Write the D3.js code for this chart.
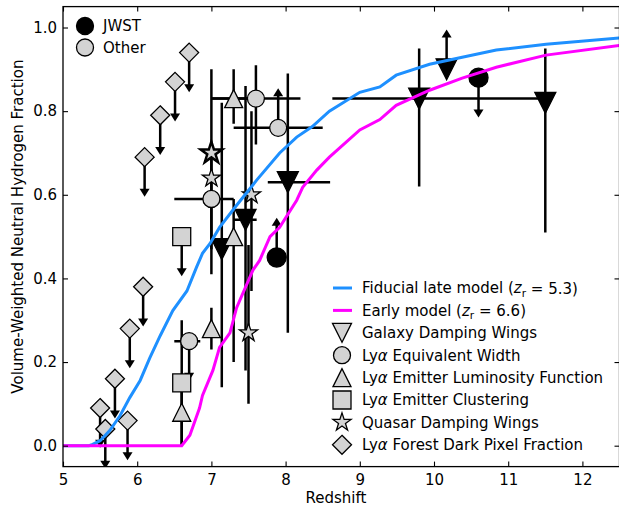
<!DOCTYPE html>
<html>
<head>
<meta charset="utf-8">
<script src="https://cdn.jsdelivr.net/npm/d3@7"></script>
<style>
body { margin: 0; background: #fff; }
text { font-family: "DejaVu Sans", sans-serif; }
</style>
</head>
<body>
<svg id="chart" width="619" height="512"></svg>
<script>
// reionization model curves (redshift, neutral fraction)
var lateZ  = [5.0, 5.35, 5.40, 5.50, 5.63, 5.77, 5.90, 6.04, 6.17, 6.31, 6.48, 6.67, 6.80, 6.88, 6.98, 7.11, 7.34, 7.61, 7.92, 8.15, 8.36, 8.59, 9.0, 9.27, 9.49, 9.94, 10.38, 10.84, 11.51, 12.5];
var lateX  = [0, 0, 0.003, 0.012, 0.036, 0.072, 0.115, 0.156, 0.21, 0.263, 0.323, 0.37, 0.427, 0.46, 0.483, 0.522, 0.575, 0.635, 0.70, 0.738, 0.763, 0.80, 0.845, 0.858, 0.886, 0.912, 0.929, 0.946, 0.96, 0.975];
var earlyZ = [5.0, 6.60, 6.71, 6.84, 6.88, 7.02, 7.11, 7.25, 7.34, 7.56, 7.65, 7.79, 7.92, 8.15, 8.23, 8.42, 8.59, 9.0, 9.27, 9.49, 9.94, 10.38, 10.84, 11.51, 12.5];
var earlyX = [0, 0, 0.025, 0.09, 0.12, 0.18, 0.235, 0.27, 0.33, 0.42, 0.443, 0.50, 0.522, 0.587, 0.618, 0.659, 0.69, 0.755, 0.78, 0.814, 0.85, 0.879, 0.905, 0.934, 0.957];

// measurements: v = xHI, lo/hi = y errors, zlo/zhi = redshift errors
// lim: -1 upper limit, 1 lower limit
var galaxyDW = [
    {z: 7.14, v: 0.47, lo: 0.33, hi: 0.35, jwst: true},
    {z: 7.46, v: 0.54, lo: 0.36, hi: 0.32, zlo: 0.16, zhi: 0.15, jwst: true},
    {z: 8.03, v: 0.63, lo: 0.36, hi: 0.26, zlo: 0.27, zhi: 0.57, jwst: true},
    {z: 9.8,  v: 0.83, lo: 0.21, hi: 0.12, zlo: 1.17, zhi: 1.7, jwst: true},
    {z: 10.17, v: 0.90, lim: 1, jwst: true},
    {z: 11.5, v: 0.82, lo: 0.31, hi: 0.13, jwst: true}
];
var lyaEW = [
    {z: 7.6, v: 0.83, lo: 0.11, hi: 0.08, zlo: 0.6, zhi: 0.6},
    {z: 7.9, v: 0.76, zlo: 0.6, zhi: 0.6, lim: 1},
    {z: 7.0, v: 0.59, lo: 0.18, hi: 0.11, zlo: 0.5, zhi: 0.3},
    {z: 6.7, v: 0.25, zlo: 0.2, zhi: 0.15, lim: -1},
    {z: 7.88, v: 0.45, lim: 1, jwst: true},
    {z: 10.6, v: 0.88, lim: -1, jwst: true}
];
var lyaLF = [
    {z: 6.6, v: 0.08, lo: 0.08, hi: 0.08},
    {z: 7.0, v: 0.28, lo: 0.05, hi: 0.05},
    {z: 7.3, v: 0.50, lo: 0.30, hi: 0.09},
    {z: 7.3, v: 0.83, lo: 0.06, hi: 0.07, zlo: 0.3, zhi: 0.3}
];
var lyaClust = [
    {z: 6.6, v: 0.50, lim: -1},
    {z: 6.6, v: 0.15, lo: 0.15, hi: 0.15}
];
var quasarDW = [
    {z: 7.0, v: 0.70, lo: 0.23, hi: 0.20, jwst: true},
    {z: 7.0, v: 0.70},
    {z: 7.0, v: 0.64},
    {z: 7.54, v: 0.60, lo: 0.23, hi: 0.20},
    {z: 7.5, v: 0.27, lo: 0.17, hi: 0.21}
];
var darkPixel = [
    {z: 5.50, v: 0.09, lim: -1},
    {z: 5.57, v: 0.04, lim: -1},
    {z: 5.70, v: 0.16, lim: -1},
    {z: 5.87, v: 0.06, lim: -1},
    {z: 5.90, v: 0.28, lim: -1},
    {z: 6.08, v: 0.38, lim: -1},
    {z: 6.10, v: 0.69, lim: -1},
    {z: 6.31, v: 0.79, lim: -1},
    {z: 6.51, v: 0.87, lim: -1},
    {z: 6.70, v: 0.94, lim: -1}
];

var xTicks = [5, 6, 7, 8, 9, 10, 11, 12];
var yTicks = [0, 0.2, 0.4, 0.6, 0.8, 1.0];
var modelNames = [["Fiducial late model (", "5.3)"], ["Early model (", "6.6)"]];
var probeNames = ["Galaxy Damping Wings", "Ly|\u03b1| Equivalent Width", "Ly|\u03b1| Emitter Luminosity Function",
                  "Ly|\u03b1| Emitter Clustering", "Quasar Damping Wings", "Ly|\u03b1| Forest Dark Pixel Fraction"];

var LATE = "#1e90ff", EARLY = "#ff00ff", GREY = "#d3d3d3", ARROW = 0.095;

var svg = d3.select("#chart");
var margin = {left: 63, top: 6.6, right: 619.5, bottom: 466.6};
var x = d3.scaleLinear().domain([5, 12.5]).range([margin.left, margin.right]);
var y = d3.scaleLinear().domain([-0.05, 1.05]).range([margin.bottom, margin.top]);

svg.append("clipPath").attr("id", "plotclip").append("rect")
    .attr("x", margin.left).attr("y", margin.top)
    .attr("width", margin.right - margin.left).attr("height", margin.bottom - margin.top);

// marker paths, s = half size
function shape(type, s) {
    if (type == "circle") return d3.arc()({innerRadius: 0, outerRadius: s, startAngle: 0, endAngle: 2 * Math.PI});
    if (type == "down") return "M0," + s + "L" + (-s) + "," + (-s) + "L" + s + "," + (-s) + "Z";
    if (type == "up") return "M0," + (-s) + "L" + (-s) + "," + s + "L" + s + "," + s + "Z";
    if (type == "square") return "M" + (-s) + "," + (-s) + "H" + s + "V" + s + "H" + (-s) + "Z";
    if (type == "diamond") return "M0," + (-s) + "L" + s + ",0L0," + s + "L" + (-s) + ",0Z";
    var pts = [];
    for (var i = 0; i < 10; i++) {
        var a = -Math.PI / 2 + i * Math.PI / 5, r = i % 2 ? s * 0.382 : s;
        pts.push([r * Math.cos(a), r * Math.sin(a)]);
    }
    return "M" + pts.join("L") + "Z";
}

var sets = [
    {data: galaxyDW, type: "down", s: 9.5},
    {data: lyaEW, type: "circle", s: 8.5},
    {data: lyaLF, type: "up", s: 9},
    {data: lyaClust, type: "square", s: 9},
    {data: quasarDW, type: "star", s: 9.5},
    {data: darkPixel, type: "diamond", s: 9.5}
];

var plot = svg.append("g").attr("clip-path", "url(#plotclip)");
var bars = plot.append("g").attr("stroke", "black").attr("stroke-width", 2.5);
var marks = plot.append("g");

sets.forEach(function(set) {
    set.data.forEach(function(d) {
        var cx = x(d.z), cy = y(d.v);
        if (d.zlo || d.zhi)
            bars.append("line").attr("x1", x(d.z - (d.zlo || 0))).attr("x2", x(d.z + (d.zhi || 0)))
                .attr("y1", cy).attr("y2", cy);
        if (d.lo || d.hi)
            bars.append("line").attr("x1", cx).attr("x2", cx)
                .attr("y1", y(d.v - (d.lo || 0))).attr("y2", y(d.v + (d.hi || 0)));
        if (d.lim) {
            var tip = y(d.v + d.lim * ARROW), dir = d.lim > 0 ? 1 : -1;
            bars.append("line").attr("x1", cx).attr("x2", cx).attr("y1", cy).attr("y2", tip + dir * 6);
            bars.append("path").attr("stroke", "none").attr("fill", "black")
                .attr("d", "M" + cx + "," + tip + "L" + (cx - 5) + "," + (tip + dir * 8) + "L" + (cx + 5) + "," + (tip + dir * 8) + "Z");
        }
    });
});

sets.forEach(function(set) {
    set.data.forEach(function(d) {
        marks.append("path")
            .attr("d", shape(set.type, d.jwst ? set.s + 1 : set.s))
            .attr("transform", "translate(" + x(d.z) + "," + y(d.v) + ")")
            .attr("fill", d.jwst ? "black" : GREY)
            .attr("stroke", "black")
            .attr("stroke-width", d.jwst && set.type == "star" ? 3 : 1.3)
            .attr("stroke-linejoin", "miter");
    });
});

// model lines on top
var line = d3.line().x(function(d) { return x(d[0]); }).y(function(d) { return y(d[1]); });
plot.append("path").datum(d3.zip(lateZ, lateX))
    .attr("fill", "none").attr("stroke", LATE).attr("stroke-width", 3).attr("d", line);
plot.append("path").datum(d3.zip(earlyZ, earlyX))
    .attr("fill", "none").attr("stroke", EARLY).attr("stroke-width", 3).attr("d", line);

// axes, inward ticks on all sides
function styleAxis(g, labels) {
    g.select(".domain").remove();
    g.selectAll(".tick line").attr("stroke-width", 1.1);
    g.selectAll("text").attr("font-size", 15).attr("fill", "black")
        .attr("font-family", "DejaVu Sans");
    if (!labels) g.selectAll("text").remove();
}
svg.append("g").attr("transform", "translate(0," + margin.bottom + ")")
    .call(d3.axisBottom(x).tickValues(xTicks).tickSize(-5).tickPadding(8).tickFormat(d3.format("d")))
    .call(styleAxis, true);
svg.append("g").attr("transform", "translate(0," + margin.top + ")")
    .call(d3.axisTop(x).tickValues(xTicks).tickSize(-5)).call(styleAxis, false);
svg.append("g").attr("transform", "translate(" + margin.left + ",0)")
    .call(d3.axisLeft(y).tickValues(yTicks).tickSize(-5).tickPadding(6).tickFormat(d3.format(".1f")))
    .call(styleAxis, true);
svg.append("g").attr("transform", "translate(" + margin.right + ",0)")
    .call(d3.axisRight(y).tickValues(yTicks).tickSize(-5)).call(styleAxis, false);

svg.append("rect")
    .attr("x", margin.left).attr("y", margin.top)
    .attr("width", margin.right - margin.left).attr("height", margin.bottom - margin.top)
    .attr("fill", "none").attr("stroke", "black").attr("stroke-width", 1.3);

svg.append("text")
    .attr("x", 336).attr("y", 503)
    .attr("text-anchor", "middle").attr("font-size", 15)
    .text("Redshift");
svg.append("text")
    .attr("transform", "rotate(-90)")
    .attr("x", -(margin.top + margin.bottom) / 2 + 10).attr("y", 23)
    .attr("text-anchor", "middle").attr("font-size", 15)
    .text("Volume-Weighted Neutral Hydrogen Fraction");

// top-left legend
var leg1 = svg.append("g");
[["JWST", "black"], ["Other", GREY]].forEach(function(e, i) {
    var gy = 26 + i * 21.5;
    leg1.append("path").attr("d", shape("circle", 8.5))
        .attr("transform", "translate(85," + gy + ")")
        .attr("fill", e[1]).attr("stroke", "black").attr("stroke-width", 1.3);
    leg1.append("text").attr("x", 103).attr("y", gy).attr("dy", "0.36em")
        .attr("font-size", 15).text(e[0]);
});

// lower-right legend
var leg2 = svg.append("g");
function legendRow(i) { return 288 + i * 22.4; }
[LATE, EARLY].forEach(function(c, i) {
    var gy = legendRow(i);
    leg2.append("line").attr("x1", 333).attr("x2", 352).attr("y1", gy).attr("y2", gy)
        .attr("stroke", c).attr("stroke-width", 3);
    var t = leg2.append("text").attr("x", 362).attr("y", gy).attr("dy", "0.36em").attr("font-size", 15);
    t.append("tspan").text(modelNames[i][0]);
    t.append("tspan").attr("font-style", "italic").text("z");
    t.append("tspan").attr("font-size", 10.5).attr("dy", "0.3em").text("r");
    t.append("tspan").attr("dy", "-0.2em").text(" = " + modelNames[i][1]);
});
sets.forEach(function(set, i) {
    var gy = legendRow(i + 2);
    leg2.append("path").attr("d", shape(set.type, set.s))
        .attr("transform", "translate(342," + gy + ")")
        .attr("fill", GREY).attr("stroke", "black").attr("stroke-width", 1.3);
    var t = leg2.append("text").attr("x", 362).attr("y", gy).attr("dy", "0.36em").attr("font-size", 15);
    probeNames[i].split("|").forEach(function(part, k) {
        t.append("tspan").attr("font-style", k == 1 ? "italic" : "normal").text(part);
    });
});
</script>
</body>
</html>
